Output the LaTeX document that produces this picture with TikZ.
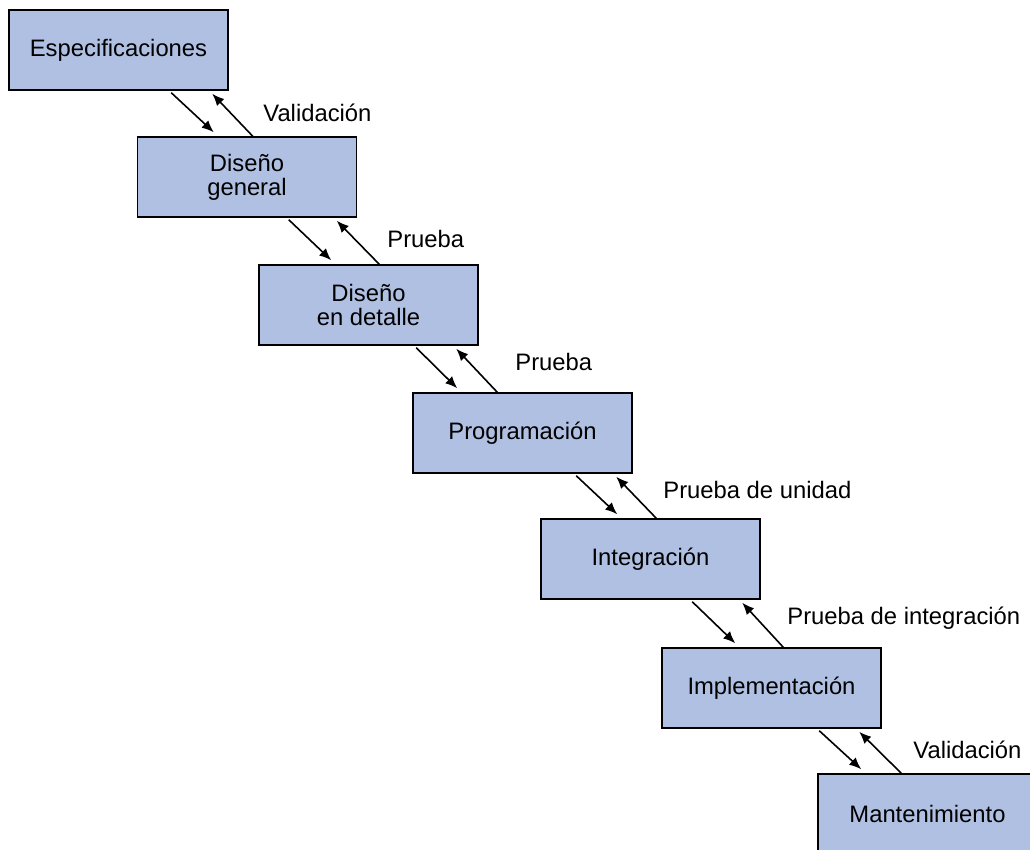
\documentclass[tikz,border=0pt]{standalone}
\usepackage{fontspec}
\setmainfont{Liberation Sans}
\usetikzlibrary{arrows.meta}
\definecolor{fasefill}{RGB}{176,192,226}
\begin{document}
\begin{tikzpicture}[x=0.5pt,y=-0.5pt,
        fase/.style={draw=black, fill=fasefill, line width=0.75pt, minimum width=109.5pt,
            minimum height=40pt, inner sep=0pt, align=center, font=\fontsize{11.9}{12}\selectfont},
        flow/.style={-{Latex[length=6pt,width=5pt]}, line width=0.8pt},
        etiqueta/.style={anchor=west, inner sep=0pt, font=\fontsize{11.9}{12}\selectfont}]
        \path[use as bounding box, fill=white] (0,0) rectangle (1030,850);
        \clip (0,0) rectangle (1030,850);
        \node[fase] (espec) at (118.5,50) {Especificaciones};
        \node[fase] (general) at (247,177) {Diseño\\general};
        \node[fase] (detalle) at (368.5,305) {Diseño\\en detalle};
        \node[fase] (prog) at (522.5,433) {Programación};
        \node[fase] (integ) at (650.5,559) {Integración};
        \node[fase] (impl) at (771.5,688) {Implementación};
        \node[fase] (mant) at (927.5,814) {Mantenimiento};
        \draw[flow] ([xshift=81.5pt,yshift=-1pt]espec.south west) -- ([xshift=38.5pt,yshift=2pt]general.north west);
        \draw[flow] ([xshift=58pt]general.north west) -- ([xshift=102pt,yshift=-1.5pt]espec.south west);
        \draw[flow] ([xshift=76pt,yshift=-1pt]general.south west) -- ([xshift=36.5pt,yshift=2pt]detalle.north west);
        \draw[flow] ([xshift=60.5pt]detalle.north west) -- ([xshift=100pt,yshift=-1.5pt]general.south west);
        \draw[flow] ([xshift=79pt,yshift=-1pt]detalle.south west) -- ([xshift=22.5pt,yshift=2pt]prog.north west);
        \draw[flow] ([xshift=42.5pt]prog.north west) -- ([xshift=99pt,yshift=-1.5pt]detalle.south west);
        \draw[flow] ([xshift=82pt,yshift=-1pt]prog.south west) -- ([xshift=38.5pt,yshift=2pt]integ.north west);
        \draw[flow] ([xshift=58pt]integ.north west) -- ([xshift=102pt,yshift=-1.5pt]prog.south west);
        \draw[flow] ([xshift=76pt,yshift=-1pt]integ.south west) -- ([xshift=37pt,yshift=2pt]impl.north west);
        \draw[flow] ([xshift=61pt]impl.north west) -- ([xshift=101pt,yshift=-1.5pt]integ.south west);
        \draw[flow] ([xshift=79pt,yshift=-1pt]impl.south west) -- ([xshift=22pt,yshift=2pt]mant.north west);
        \draw[flow] ([xshift=42pt]mant.north west) -- ([xshift=99pt,yshift=-1.5pt]impl.south west);
        \node[etiqueta] (val1) at (263,113) {Validación};
        \node[etiqueta] (pru1) at (387,239) {Prueba};
        \node[etiqueta] (pru2) at (515,362) {Prueba};
        \node[etiqueta] (unid) at (663,490) {Prueba de unidad};
        \node[etiqueta] (pint) at (787,618) {Prueba de integración};
        \node[etiqueta] (val2) at (913,750) {Validación};
\end{tikzpicture}
\end{document}
